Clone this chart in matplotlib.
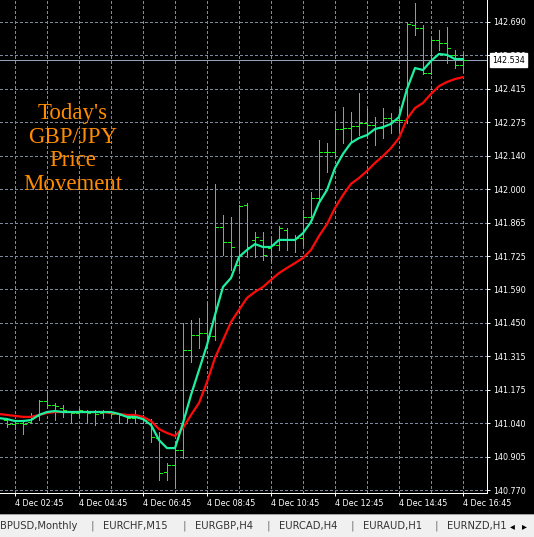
import matplotlib.pyplot as plt
import numpy as np
from matplotlib.patches import Rectangle
from matplotlib.transforms import blended_transform_factory

# GBPJPY M15 bars, 4 Dec 02:30 .. 16:45 (58 bars)
opens = [141.057, 141.041, 141.045, 141.049, 141.074, 141.135, 141.119, 141.106, 141.090, 141.086,
         141.090, 141.090, 141.086, 141.086, 141.082, 141.078, 141.065, 141.074, 141.057, 140.983,
         140.844, 140.873, 140.934, 141.345, 141.406, 141.414, 141.402, 141.849, 141.788, 141.693,
         141.939, 141.796, 141.796, 141.763, 141.775, 141.837, 141.796, 141.804, 141.890, 141.968,
         142.157, 142.157, 142.251, 142.255, 142.263, 142.276, 142.267, 142.255, 142.296, 142.288,
         142.288, 142.678, 142.665, 142.481, 142.616, 142.604, 142.555, 142.514]
highs = [141.065, 141.057, 141.049, 141.086, 141.139, 141.172, 141.127, 141.119, 141.094, 141.106,
         141.098, 141.098, 141.098, 141.090, 141.086, 141.082, 141.098, 141.078, 141.061, 141.008,
         140.881, 140.951, 141.455, 141.468, 141.476, 141.541, 142.026, 141.898, 141.890, 141.939,
         141.948, 141.829, 141.829, 141.808, 141.853, 141.845, 141.816, 141.919, 141.993, 142.206,
         142.194, 142.317, 142.341, 142.321, 142.399, 142.337, 142.300, 142.337, 142.317, 142.341,
         142.690, 142.768, 142.678, 142.624, 142.657, 142.670, 142.575, 142.563]
lows = [141.029, 141.020, 141.000, 141.045, 141.057, 141.106, 141.057, 141.070, 141.049, 141.070,
        141.045, 141.037, 141.065, 141.070, 141.045, 141.045, 141.045, 141.045, 140.967, 140.811,
        140.811, 140.778, 140.901, 141.295, 141.353, 141.385, 141.385, 141.734, 141.673, 141.673,
        141.726, 141.726, 141.714, 141.701, 141.755, 141.755, 141.746, 141.775, 141.890, 141.960,
        142.075, 142.136, 142.194, 142.198, 142.226, 142.226, 142.185, 142.214, 142.235, 142.247,
        142.276, 142.637, 142.477, 142.477, 142.575, 142.522, 142.501, 142.485]
closes = [141.041, 141.045, 141.041, 141.074, 141.135, 141.119, 141.115, 141.098, 141.086, 141.098,
          141.086, 141.082, 141.090, 141.082, 141.078, 141.065, 141.074, 141.057, 140.988, 140.840,
          140.873, 140.934, 141.345, 141.406, 141.414, 141.402, 141.849, 141.788, 141.767, 141.935,
          141.767, 141.808, 141.734, 141.775, 141.845, 141.796, 141.804, 141.890, 141.968, 142.157,
          142.157, 142.251, 142.255, 142.263, 142.276, 142.267, 142.255, 142.296, 142.288, 142.288,
          142.682, 142.665, 142.481, 142.616, 142.604, 142.583, 142.514, 142.534]

# moving averages, starting one bar before the first visible bar
ma_fast = [141.065, 141.061, 141.053, 141.053, 141.057, 141.078, 141.090, 141.094, 141.090, 141.090,
           141.090, 141.090, 141.090, 141.090, 141.090, 141.082, 141.070, 141.070, 141.061, 141.037,
           140.975, 140.942, 140.942, 141.045, 141.160, 141.262, 141.365, 141.488, 141.603, 141.640,
           141.726, 141.755, 141.779, 141.767, 141.767, 141.796, 141.796, 141.796, 141.824, 141.870,
           141.948, 142.001, 142.091, 142.149, 142.194, 142.214, 142.226, 142.251, 142.259, 142.272,
           142.300, 142.415, 142.501, 142.493, 142.530, 142.559, 142.555, 142.538, 142.538]
ma_slow = [141.082, 141.078, 141.074, 141.070, 141.070, 141.078, 141.086, 141.090, 141.090, 141.090,
           141.090, 141.090, 141.090, 141.090, 141.086, 141.082, 141.078, 141.078, 141.070, 141.053,
           141.020, 141.004, 140.992, 141.024, 141.078, 141.127, 141.213, 141.312, 141.385, 141.459,
           141.509, 141.558, 141.583, 141.603, 141.632, 141.660, 141.681, 141.701, 141.722, 141.755,
           141.812, 141.861, 141.927, 141.980, 142.026, 142.050, 142.079, 142.112, 142.140, 142.173,
           142.214, 142.292, 142.337, 142.358, 142.395, 142.427, 142.444, 142.456, 142.464]
bid = 142.534

price_labels = ['140.770', '140.905', '141.040', '141.175', '141.315', '141.450', '141.590',
                '141.725', '141.865', '142.000', '142.140', '142.275', '142.415', '142.550', '142.690']
time_labels = ['4 Dec 02:45', '4 Dec 04:45', '4 Dec 06:45', '4 Dec 08:45',
               '4 Dec 10:45', '4 Dec 12:45', '4 Dec 14:45', '4 Dec 16:45']
tabs = ['BPUSD,Monthly', 'EURCHF,M15', 'EURGBP,H4', 'EURCAD,H4', 'EURAUD,H1', 'EURNZD,H1']

W, H = 534, 537
fig = plt.figure(figsize=(W / 100, H / 100), dpi=100, facecolor='black')
ax = fig.add_axes([0, 44 / H, 487 / W, 493 / H])
ax.set_facecolor('black')

idx = np.arange(len(opens))
ma_idx = np.arange(-1, len(ma_fast) - 1)
px = 0.72
bar_col = '#1AF01A'
grid_col = '#7D8A9C'

# price ticks: evenly spaced like MT4
ticks = np.linspace(140.770, 142.690, len(price_labels))
step = ticks[1] - ticks[0]
per_px = step / 33.43
ax.set_ylim(142.690 - 471 * per_px, 142.690 + 22 * per_px)
ax.set_xlim(-0.875, 60)

ax.set_yticks(ticks)
ax.set_yticklabels(price_labels)
ax.set_xticks(np.arange(1, 58, 8))
ax.set_xticklabels(time_labels, ha='left')
ax.set_xticks(np.arange(1, 58, 4), minor=True)

ax.yaxis.tick_right()
ax.tick_params(axis='both', which='major', colors='white', labelsize=5.8,
               length=2.2, width=px, pad=2.2)
ax.tick_params(axis='x', which='minor', length=0)
ax.grid(True, which='both', color=grid_col, linestyle=(0, (2.2, 2.2)), linewidth=px,
        antialiased=False)
ax.set_axisbelow(True)
for s in ['top', 'left']:
    ax.spines[s].set_visible(False)
for s in ['right', 'bottom']:
    ax.spines[s].set_color('white')
    ax.spines[s].set_linewidth(px)

# bid line
ax.axhline(bid, color='#93A3B8', lw=px, zorder=1.5, antialiased=False)

# OHLC bars
ax.vlines(idx, lows, highs, color=bar_col, lw=px, zorder=2, antialiased=False)
ax.hlines(opens, idx - 0.375, idx, color=bar_col, lw=px, zorder=2, antialiased=False)
ax.hlines(closes, idx, idx + 0.375, color=bar_col, lw=px, zorder=2, antialiased=False)

# moving averages
ax.plot(ma_idx, ma_slow, color='#FF0A0A', lw=1.6, zorder=3)
ax.plot(ma_idx, ma_fast, color='#1EEFA0', lw=1.6, zorder=3.1)

# current price box
tr = blended_transform_factory(ax.transAxes, ax.transData)
ax.text(1 + 5 / 487, bid, '142.534', transform=tr, ha='left', va='center',
        fontsize=5.8, color='black', clip_on=False, zorder=10,
        bbox=dict(boxstyle='square,pad=0.3', fc='white', ec='white'))

# title text on the chart
fig.text(72.5 / W, 1 - 149 / H, "Today's\nGBP/JPY\nPrice\nMovement", ha='center', va='center',
         family='Liberation Serif', fontsize=16.5, color='#FF8C00', linespacing=1.16)

# tab bar at the bottom
fig.add_artist(Rectangle((0, 0), 1, 23 / H, transform=fig.transFigure,
                         facecolor='#F0F0F0', edgecolor='none'))
fig.add_artist(plt.Line2D([0, 1], [23 / H, 23 / H], transform=fig.transFigure,
                          color='#A0A0A0', lw=px))
tab_x = [0, 103, 195, 279, 363, 447]
sep_x = [92, 184, 268, 352, 436]
for tx, name in zip(tab_x, tabs):
    fig.text(tx / W, 1 - 526 / H, name, ha='left', va='center', fontsize=7.2, color='#333333')
for sx in sep_x:
    fig.text(sx / W, 1 - 526 / H, '|', ha='center', va='center', fontsize=7.5, color='#707070')
fig.add_artist(Rectangle((498 / W, 0), 36 / W, 22 / H, transform=fig.transFigure,
                         facecolor='#F0F0F0', edgecolor='none'))
fig.text(512 / W, 1 - 526 / H, '\u25c2', ha='center', va='center', fontsize=7, color='black')
fig.text(524 / W, 1 - 526 / H, '\u25b8', ha='center', va='center', fontsize=7, color='black')

fig.savefig('out.png', dpi=100, facecolor='black')
